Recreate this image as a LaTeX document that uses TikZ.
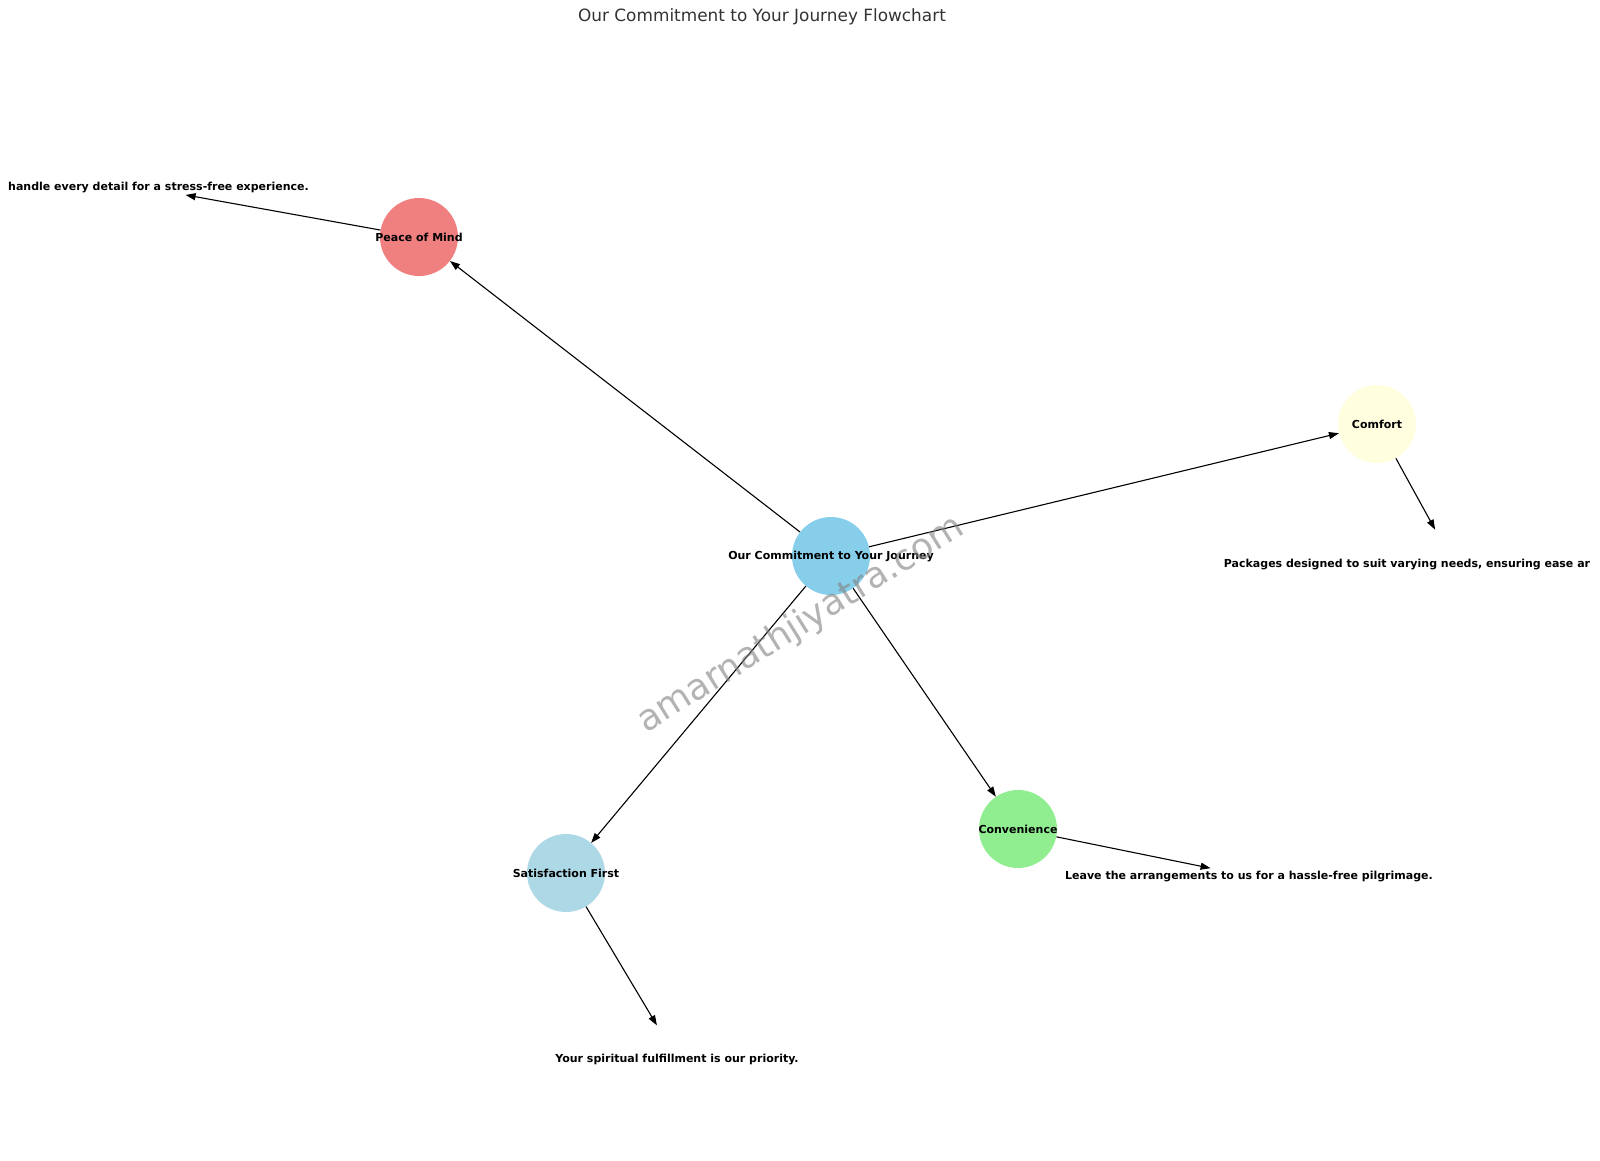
\documentclass[tikz,border=0pt]{standalone}
\usepackage{fontspec}
\setmainfont{DejaVu Sans}
\usetikzlibrary{arrows.meta}
\definecolor{hubblue}{HTML}{87CEEB}
\definecolor{peacered}{HTML}{F08080}
\definecolor{comfyellow}{HTML}{FFFFE0}
\definecolor{convgreen}{HTML}{90EE90}
\definecolor{satblue}{HTML}{ADD8E6}
\definecolor{titlegray}{HTML}{333333}
\tikzset{
  topic/.style={circle, minimum size=78pt, inner sep=0pt, fill=#1},
  note/.style={circle, minimum size=78pt, inner sep=0pt},
  link/.style={-{Triangle[length=10pt,width=7pt]}, line width=1.1pt},
  lbl/.style={font=\fontsize{11}{13}\selectfont\bfseries}
}
\begin{document}
\begin{tikzpicture}[x=1pt,y=-1pt]
  \useasboundingbox (0,0) rectangle (1600,1160);
  \clip (7,0) rectangle (1591,1160);
  \node[font=\fontsize{16.9}{20}\selectfont, text=titlegray] (title) at (762,17) {Our Commitment to Your Journey Flowchart};
  % centre of the star
  \node[topic=hubblue, label={[lbl]center:{Our Commitment to Your Journey}}] (commit) at (831,556) {};
  \foreach \name/\col/\x/\y/\lab/\nx/\ny/\txt in {
      peace/peacered/419/237/{Peace of Mind}/147/188/{\phantom{We }handle every detail for a stress-free experience.},
      comfort/comfyellow/1377/424/{Comfort}/1454/564/{Packages designed to suit varying needs, ensuring ease ar\rule{94pt}{0pt}},
      conv/convgreen/1018/829/{Convenience}/1249/876/{Leave the arrangements to us for a hassle-free pilgrimage.},
      sat/satblue/566/873/{Satisfaction First}/677/1059/{Your spiritual fulfillment is our priority.}} {
    \node[topic=\col, label={[lbl]center:{\lab}}] (\name) at (\x,\y) {};
    \node[note, label={[lbl]center:{\txt}}] (\name-txt) at (\nx,\ny) {};
    \draw[link] (commit) -- (\name);
    \draw[link] (\name) -- (\name-txt);
  }
  \node[rotate=32, text=gray, opacity=0.6, font=\fontsize{36}{40}\selectfont] (mark) at (801,625) {amarnathjiyatra.com};
\end{tikzpicture}
\end{document}
